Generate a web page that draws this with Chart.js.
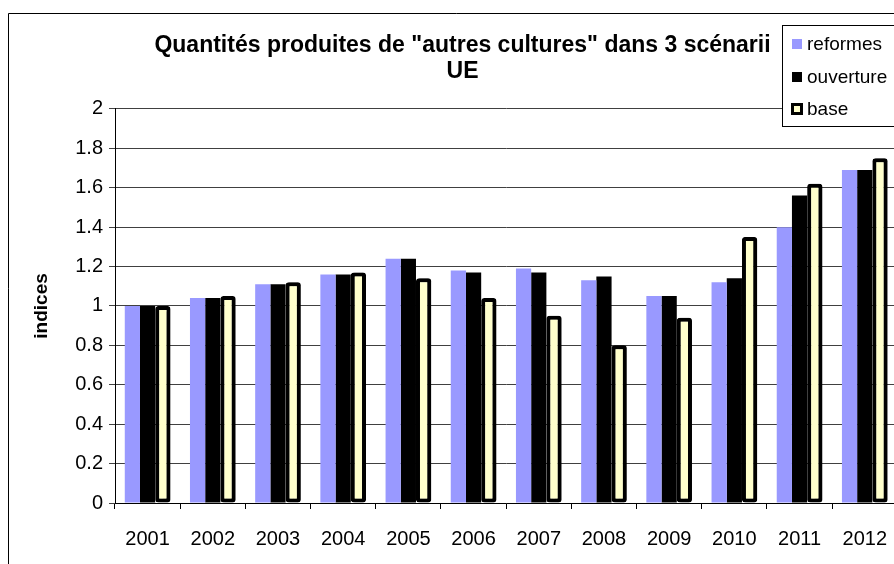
<!DOCTYPE html>
<html>
<head>
<meta charset="utf-8">
<script src="https://cdn.jsdelivr.net/npm/chart.js@4"></script>
<style>
  html, body { margin: 0; padding: 0; background: #fff; overflow: hidden; }
  canvas { display: block; }
</style>
</head>
<body>
<canvas id="myChart" width="905" height="564" style="width:905px;height:564px"></canvas>
<script>
// data
const years = ['2001', '2002', '2003', '2004', '2005', '2006', '2007', '2008', '2009', '2010', '2011', '2012'];
const reformes = [1.00, 1.04, 1.11, 1.16, 1.24, 1.18, 1.19, 1.13, 1.05, 1.12, 1.40, 1.69];
const ouverture = [1.00, 1.04, 1.11, 1.16, 1.24, 1.17, 1.17, 1.15, 1.05, 1.14, 1.56, 1.69];
const base = [1.00, 1.05, 1.12, 1.17, 1.14, 1.04, 0.95, 0.80, 0.94, 1.35, 1.62, 1.75];

const FONT = '"Liberation Sans", Arial, sans-serif';

// outer frame (left + top edges only are visible in the picture)
const framePlugin = {
  id: 'frame',
  beforeDraw(chart) {
    const c = chart.ctx;
    c.save();
    c.fillStyle = '#fff';
    c.fillRect(0, 0, chart.width, chart.height);
    c.strokeStyle = '#000';
    c.lineWidth = 1;
    c.beginPath();
    c.moveTo(8.5, chart.height);
    c.lineTo(8.5, 13.5);
    c.lineTo(chart.width, 13.5);
    c.stroke();
    c.restore();
  }
};

// little shadow behind the "base" bars
const shadowPlugin = {
  id: 'barShadow',
  beforeDatasetDraw(chart, args) {
    if (args.index !== 2) return;
    const c = chart.ctx;
    c.save();
    c.shadowColor = 'rgba(0,0,0,0.35)';
    c.shadowOffsetX = 2;
    c.shadowOffsetY = 0;
    c.shadowBlur = 1;
  },
  afterDatasetDraw(chart, args) {
    if (args.index !== 2) return;
    chart.ctx.restore();
  }
};

// boxed legend sitting over the top right corner
const boxLegend = {
  id: 'boxLegend',
  afterDraw(chart) {
    const c = chart.ctx;
    const x0 = 782, y0 = 25, y1 = 126;
    c.save();
    c.fillStyle = '#fff';
    c.fillRect(x0, y0, chart.width - x0 + 5, y1 - y0);
    c.strokeStyle = '#000';
    c.lineWidth = 1;
    c.strokeRect(x0 + 0.5, y0 + 0.5, chart.width - x0 + 5, y1 - y0);
    c.font = '19px ' + FONT;
    c.textBaseline = 'middle';
    const rows = [44, 77, 109];
    chart.data.datasets.forEach((ds, i) => {
      const y = rows[i];
      if (ds.borderWidth) {
        c.fillStyle = '#000';
        c.fillRect(791, y - 6, 12, 12);
        c.fillStyle = ds.backgroundColor;
        c.fillRect(794, y - 3, 6, 6);
      } else {
        c.fillStyle = ds.backgroundColor;
        c.fillRect(792, y - 5, 10, 10);
      }
      c.fillStyle = '#000';
      c.fillText(ds.label, 807, y + 1);
    });
    c.restore();
  }
};

const ctx = document.getElementById('myChart').getContext('2d');
const chart = new Chart(ctx, {
  type: 'bar',
  data: {
    labels: years,
    datasets: [
      { label: 'reformes', data: reformes, backgroundColor: '#9999FF', borderWidth: 0 },
      { label: 'ouverture', data: ouverture, backgroundColor: '#000000', borderWidth: 0 },
      { label: 'base', data: base, backgroundColor: '#FFFFCC', borderColor: '#000000',
        borderWidth: 4, borderRadius: 3, borderSkipped: false }
    ]
  },
  options: {
    responsive: false,
    animation: false,
    categoryPercentage: 0.7,
    barPercentage: 1.0,
    layout: { padding: { left: 20, right: 0, top: 0, bottom: 0 } },
    plugins: {
      legend: { display: false },
      tooltip: { enabled: false },
      title: {
        display: true,
        text: ['Quantités produites de "autres cultures" dans 3 scénarii', 'UE'],
        color: '#000',
        font: { family: FONT, size: 23, weight: 'bold', lineHeight: 1.15 },
        padding: { top: 32, bottom: 24 }
      }
    },
    scales: {
      x: {
        grid: { drawOnChartArea: false, drawTicks: true, tickLength: 6, color: '#000', offset: true },
        border: { color: '#000' },
        ticks: { color: '#000', font: { family: FONT, size: 20 }, padding: 18, maxRotation: 0 },
        afterFit(s) { s.height = 61; }
      },
      y: {
        min: 0,
        max: 2,
        grid: { color: '#404040', tickLength: 6 },
        border: { color: '#000' },
        ticks: {
          stepSize: 0.2,
          color: '#000',
          padding: 6,
          font: { family: FONT, size: 20 },
          callback: v => String(Number(v.toFixed(1)))
        },
        title: {
          display: true,
          text: 'indices',
          color: '#000',
          font: { family: FONT, size: 19, weight: 'bold' },
          padding: { top: 10, bottom: 0 }
        },
        afterFit(s) { s.width = 95; }
      }
    }
  },
  plugins: [framePlugin, shadowPlugin, boxLegend]
});
</script>
</body>
</html>
